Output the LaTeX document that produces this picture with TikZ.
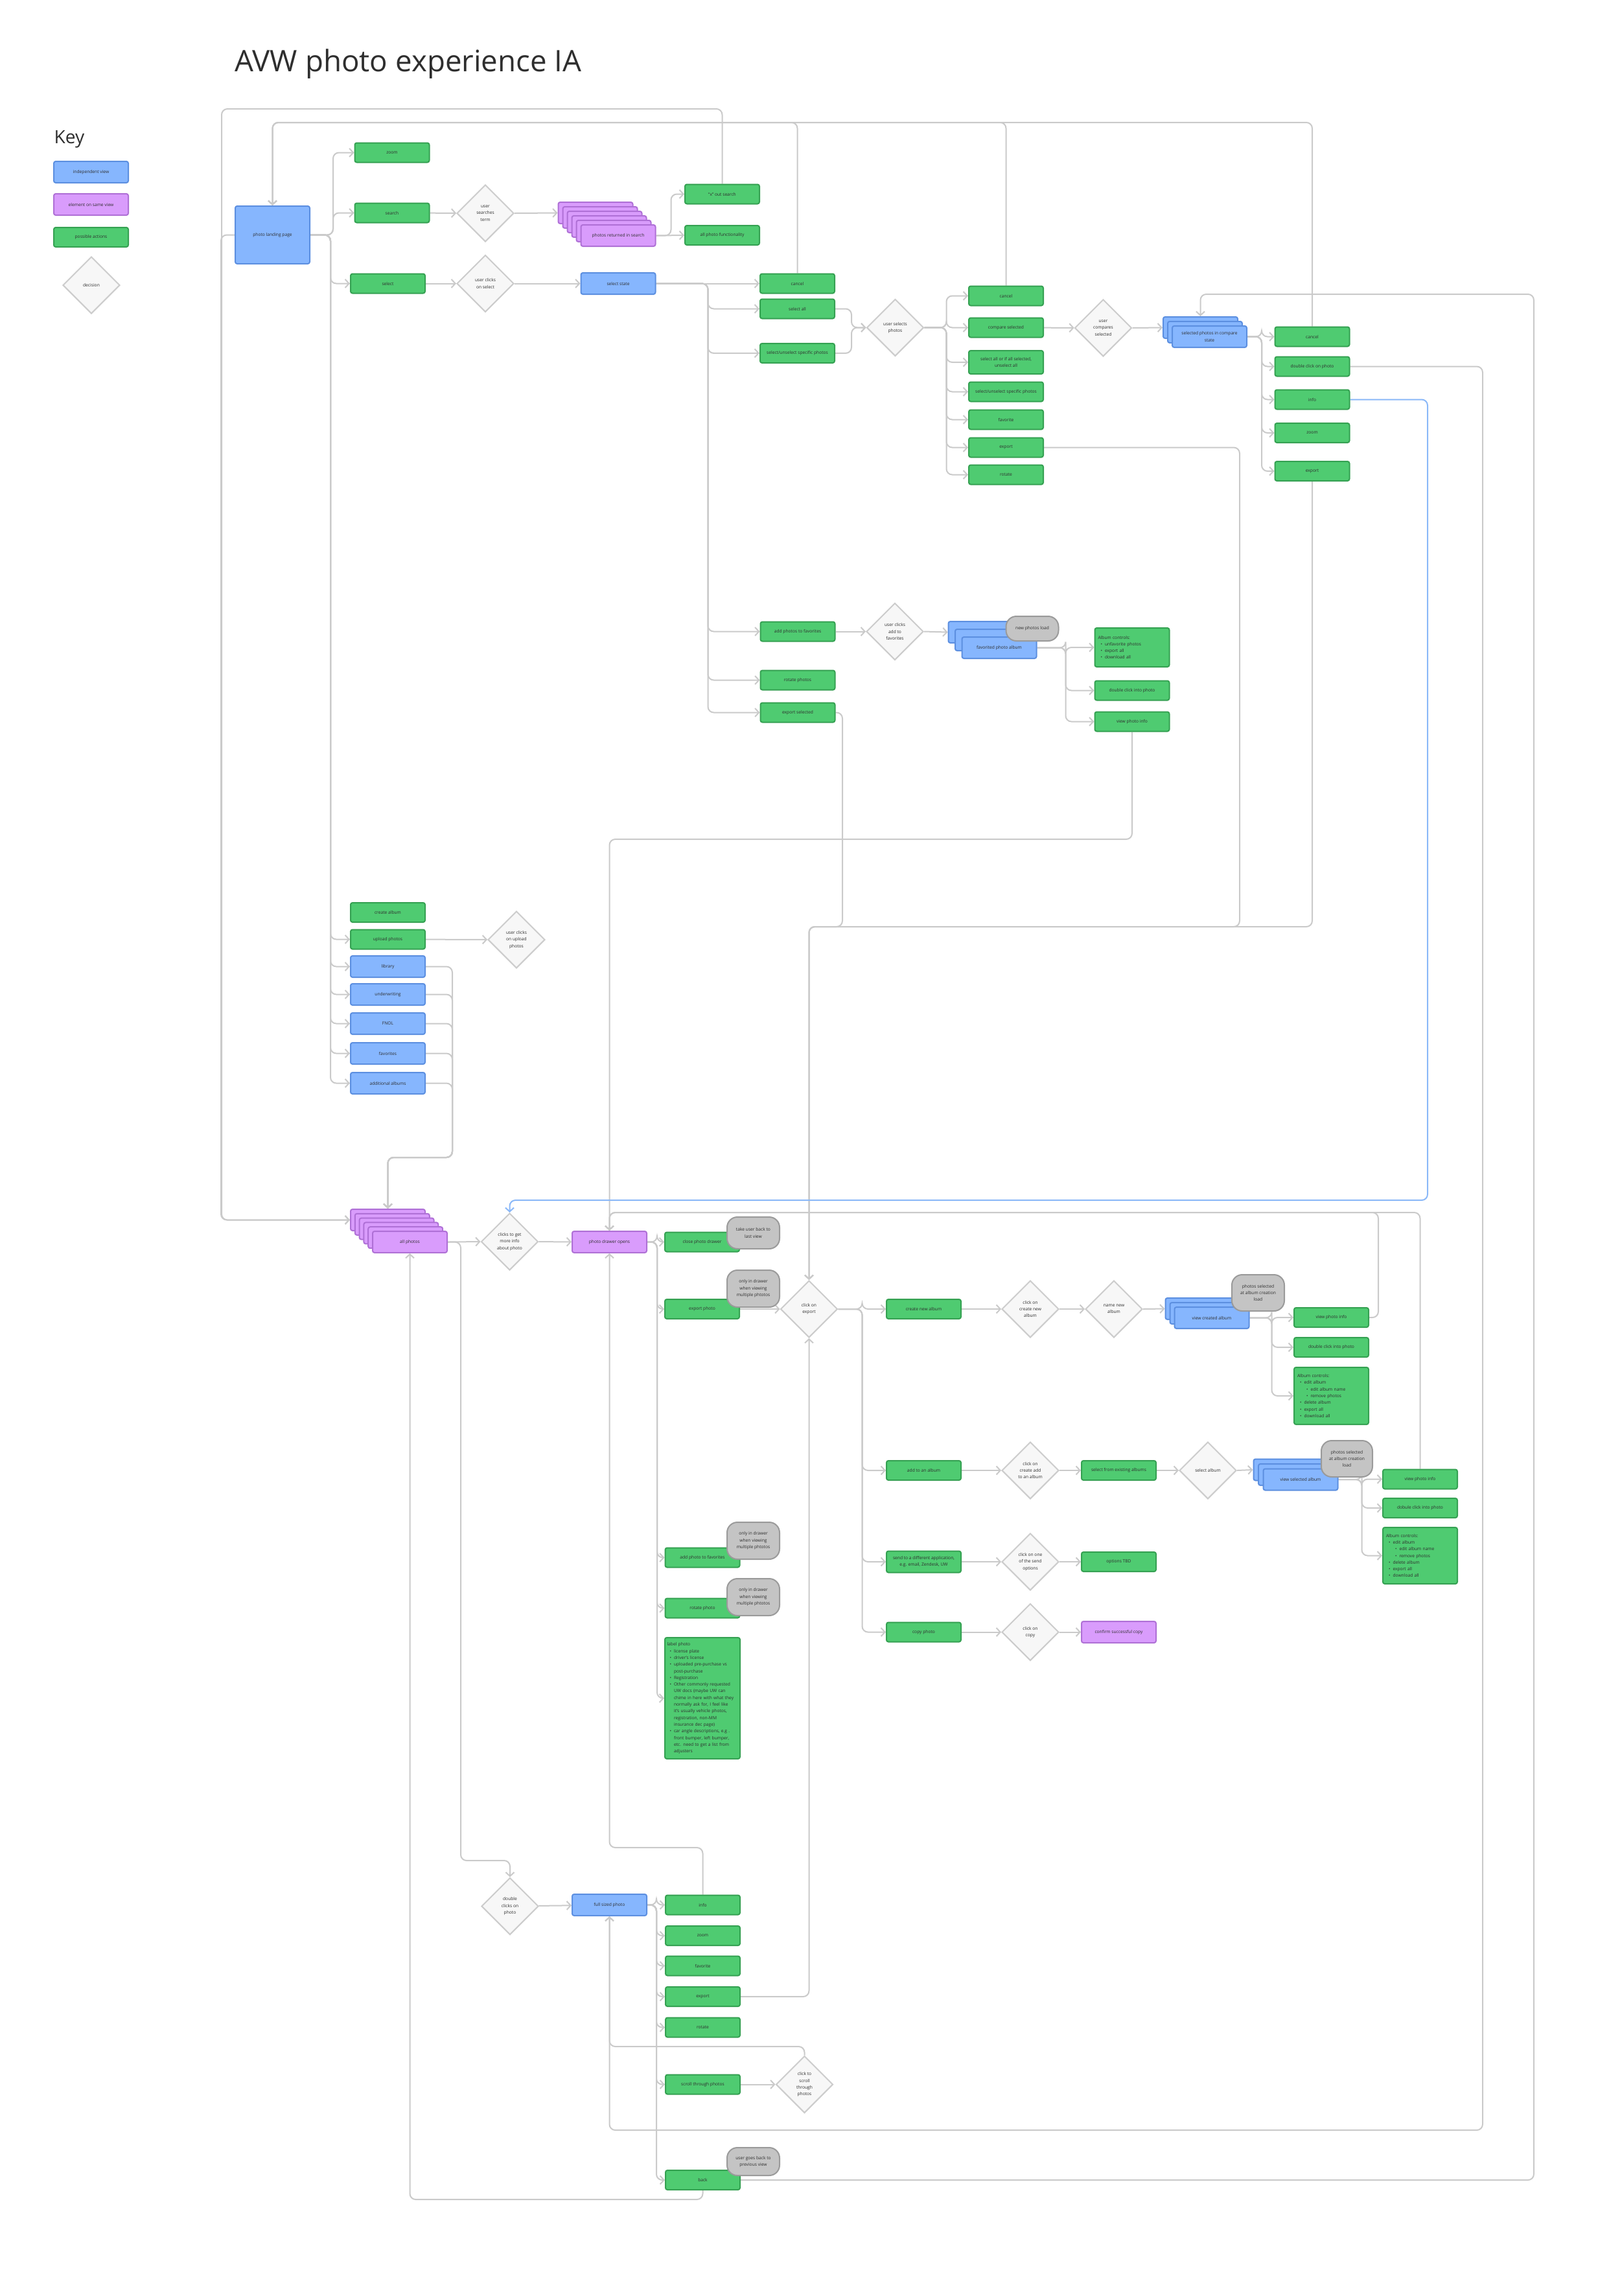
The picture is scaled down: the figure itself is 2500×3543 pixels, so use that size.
\documentclass[tikz,border=0pt]{standalone}
\usepackage{fontspec}
\setmainfont{Open Sans}
\usetikzlibrary{shapes.geometric,arrows.meta}
\pgfdeclarelayer{back}
\pgfdeclarelayer{bg}
\pgfsetlayers{back,bg,main}
\definecolor{gfill}{HTML}{4FCB71}
\definecolor{gborder}{HTML}{35A152}
\definecolor{bfill}{HTML}{86B6FE}
\definecolor{bborder}{HTML}{5C8FE0}
\definecolor{pfill}{HTML}{D99CFC}
\definecolor{pborder}{HTML}{AF70D6}
\definecolor{dfill}{HTML}{F7F7F7}
\definecolor{dborder}{HTML}{CCCCCC}
\definecolor{nfill}{HTML}{C4C4C4}
\definecolor{nborder}{HTML}{9A9A9A}
\definecolor{cline}{HTML}{CACACA}
\definecolor{bline}{HTML}{8AB8F8}
\definecolor{txt}{HTML}{2E2E2E}
\newcommand{\sm}{\fontsize{1.9pt}{2.93pt}\selectfont}
\newcommand{\bi}{\hspace*{0.4mm}\textbullet\hspace*{0.4mm}}
\newcommand{\bii}{\hspace*{1.4mm}\textbullet\hspace*{0.4mm}}
\newcommand{\bc}{\phantom{\bi}}
\tikzset{
 lbl/.style={font=\sm, text=txt},
 gbox/.style={lbl, draw=gborder, fill=gfill, line width=0.2mm, rounded corners=0.3mm, minimum width=11.5mm, minimum height=3mm, inner sep=0pt, align=center},
 bbox/.style={gbox, draw=bborder, fill=bfill, minimum height=3.3mm},
 pbox/.style={gbox, draw=pborder, fill=pfill, minimum height=3.3mm},
 dec/.style={lbl, diamond, draw=dborder, fill=dfill, line width=0.2mm, minimum width=8.8mm, minimum height=8.8mm, inner sep=0pt, align=center},
 note/.style={lbl, draw=nborder, fill=nfill, line width=0.2mm, rounded corners=1.6mm, minimum width=8.1mm, inner sep=0pt, align=center},
 conn/.style={draw=cline, line width=0.2mm, rounded corners=0.9mm, -{Straight Barb[length=0.6mm,width=1.3mm]}},
 bconn/.style={conn, draw=bline},
}
% stack: name, style, x, y, n back layers, dx, dy, text
\newcommand{\stk}[8]{%
  \foreach \k in {#5,...,1}{\node[#2] (#1\k) at ({#3-#6*\k},{#4-#7*\k}) {};}
  \node[#2] (#1) at (#3,#4) {#8};}
\begin{document}
\begin{tikzpicture}[x=0.1mm,y=-0.1mm]
\begin{pgfonlayer}{back}
\fill[white] (0,0) rectangle (2500,3543);
\end{pgfonlayer}
\path[use as bounding box] (0,0) rectangle (2500,3543);

% title and key
\node[anchor=west, text=txt, font=\fontsize{13pt}{15pt}\selectfont, inner sep=0pt] (title) at (362,99) {AVW photo experience IA};
\node[anchor=west, text=txt, font=\fontsize{8pt}{10pt}\selectfont, inner sep=0pt] (keyt) at (83,215) {Key};
\node[bbox] (keyb) at (140.5,265.5) {independent view};
\node[pbox] (keyp) at (140.5,315.5) {element on same view};
\node[gbox] (keyg) at (140.5,366) {possible actions};
\node[dec] (keyd) at (141,440) {decision};

% top section
\node[bbox, minimum height=8.9mm] (landing) at (420.5,362.5) {photo landing page};
\node[gbox] (zoom1) at (605,235.5) {zoom};
\node[gbox] (search) at (605,328.5) {search};
\node[dec] (sdiam) at (749,329) {user\\searches\\term};
\stk{ret}{pbox}{954}{363.5}{5}{7}{7}{photos returned in search}
\node[gbox] (xout) at (1114.5,299.5) {“x” out search};
\node[gbox] (allfunc) at (1114.5,363) {all photo functionality};
\node[gbox] (select) at (598.5,437.5) {select};
\node[dec] (seldiam) at (749,437.5) {user clicks\\on select};
\node[bbox] (selstate) at (954,437.5) {select state};
\node[gbox] (cancel1) at (1230.5,437.5) {cancel};
\node[gbox] (selall) at (1230.5,476.5) {select all};
\node[gbox] (selspec) at (1230.5,545) {select/unselect specific photos};
\node[dec] (usp) at (1381.5,505.5) {user selects\\photos};
\node[gbox] (cancel2) at (1552.5,456.5) {cancel};
\node[gbox] (compare) at (1552.5,505.5) {compare selected};
\node[gbox, minimum height=3.6mm] (selallun) at (1552.5,559) {select all or if all selected,\\unselect all};
\node[gbox] (selspec2) at (1552.5,604.5) {select/unselect specific photos};
\node[gbox] (fav1) at (1552.5,647.5) {favorite};
\node[gbox] (exp1) at (1552.5,690.5) {export};
\node[gbox] (rot1) at (1552.5,732.5) {rotate};
\node[dec] (cdiam) at (1702.5,506) {user\\compares\\selected};
\stk{cmp}{bbox}{1866.5}{519.5}{2}{7}{7}{selected photos in compare\\state}
\node[gbox] (cancel3) at (2025,519.5) {cancel};
\node[gbox] (cdbl) at (2025,565.5) {double click on photo};
\node[gbox] (cinfo) at (2025,616.5) {info};
\node[gbox] (czoom) at (2025,668) {zoom};
\node[gbox] (cexpo) at (2025,727) {export};

% favorites
\node[gbox] (addfav) at (1231,974.5) {add photos to favorites};
\node[gbox] (rotph) at (1231,1049.5) {rotate photos};
\node[gbox] (expsel) at (1231,1099.5) {export selected};
\node[dec] (fdiam) at (1381,974.5) {user clicks\\add to\\favorites};
\stk{favst}{bbox}{1542}{999.5}{2}{10.5}{12}{favorited photo album}
\node[note, minimum height=3.8mm] (newload) at (1593,970) {new photos load};
\node[gbox, minimum height=6mm, text width=10.5mm, align=left] (favctl) at (1747,999) {Album controls:\\\bi unfavorite photos\\\bi export all\\\bi download all};
\node[gbox] (dblfav) at (1747,1065.5) {double click into photo};
\node[gbox] (vinfofav) at (1747,1113.5) {view photo info};

% middle left
\node[gbox] (createalb) at (598.5,1408) {create album};
\node[gbox] (upload) at (598.5,1449.5) {upload photos};
\node[dec] (udiam) at (797,1450) {user clicks\\on upload\\photos};
\node[bbox] (lib) at (598.5,1491.5) {library};
\node[bbox] (uw) at (598.5,1534.5) {underwriting};
\node[bbox] (fnol) at (598.5,1579.5) {FNOL};
\node[bbox] (favs) at (598.5,1625.5) {favorites};
\node[bbox] (addl) at (598.5,1671.5) {additional albums};

% all photos / drawer
\stk{allph}{pbox}{632.5}{1916.5}{5}{6.8}{6.8}{all photos}
\node[dec] (cdi) at (786.5,1916) {clicks to get\\more info\\about photo};
\node[pbox] (drawer) at (940.5,1916.5) {photo drawer opens};
\node[gbox] (close) at (1083.5,1916.5) {close photo drawer};
\node[note, minimum height=4.9mm] (note1) at (1162.5,1902.5) {take user back to\\last view};
\node[gbox] (expph) at (1083.5,2020) {export photo};
\node[note, minimum height=5.7mm] (note2) at (1162.5,1988.5) {only in drawer\\when viewing\\multiple phtotos};
\node[dec] (cexp) at (1248.5,2020) {click on\\export};
\node[gbox] (createnew) at (1425.5,2020) {create new album};
\node[dec] (ccn) at (1590,2020) {click on\\create new\\album};
\node[dec] (namen) at (1719,2020) {name new\\album};
\stk{created}{bbox}{1870}{2033.5}{2}{7}{7}{view created album}
\node[note, minimum height=5.6mm] (note3) at (1941.5,1995) {photos selected\\at album creation\\load};
\node[gbox] (vinfo2) at (2054.5,2033) {view photo info};
\node[gbox] (dbl2) at (2054.5,2079) {double click into photo};
\node[gbox, minimum height=8.8mm, text width=10.5mm, align=left] (ctl2) at (2054.5,2154) {Album controls:\\\bi edit album\\\bii edit album name\\\bii remove photos\\\bi delete album\\\bi export all\\\bi download all};
\node[gbox] (addalb) at (1425.5,2269) {add to an album};
\node[dec] (cadd) at (1590,2269) {click on\\create add\\to an album};
\node[gbox] (selex) at (1726.5,2269) {select from existing albums};
\node[dec] (selalb) at (1864,2269) {select album};
\stk{selst}{bbox}{2007}{2283}{2}{7.5}{7.5}{view selected album}
\node[note, minimum width=7.9mm, minimum height=5.6mm] (note4) at (2078.5,2251) {photos selected\\at album creation\\load};
\node[gbox] (vinfo3) at (2191.5,2282.5) {view photo info};
\node[gbox] (dbl3) at (2191.5,2327) {dobule click into photo};
\node[gbox, minimum height=8.7mm, text width=10.5mm, align=left] (ctl3) at (2191.5,2400.5) {Album controls:\\\bi edit album\\\bii edit album name\\\bii remove photos\\\bi delete album\\\bi export all\\\bi download all};
\node[gbox, minimum height=3.3mm] (send) at (1425.5,2410) {send to a different application,\\e.g. email, Zendesk, UW};
\node[dec] (sdiam2) at (1590,2410) {click on one\\of the send\\options};
\node[gbox] (opts) at (1726.5,2410) {options TBD};
\node[gbox] (copy) at (1425.5,2518.5) {copy photo};
\node[dec] (cdiam2) at (1590,2518.5) {click on\\copy};
\node[pbox] (confirm) at (1726.5,2518.5) {confirm successful copy};

\node[gbox] (addfav2) at (1084,2403.5) {add photo to favorites};
\node[note, minimum height=5.7mm] (note5) at (1162.5,2377.5) {only in drawer\\when viewing\\multiple phtotos};
\node[gbox] (rotph2) at (1084,2481.5) {rotate photo};
\node[note, minimum height=5.7mm] (note6) at (1162.5,2464.5) {only in drawer\\when viewing\\multiple phtotos};
\node[gbox, minimum width=11.6mm, minimum height=18.7mm, text width=10.9mm, align=left] (label) at (1084,2620.5) {label photo\\
\bi license plate\\
\bi driver's license\\
\bi uploaded pre-purchase vs\\
\bc post-purchase\\
\bi Registration\\
\bi Other commonly requested\\
\bc UW docs (maybe UW can\\
\bc chime in here with what they\\
\bc normally ask for, I feel like\\
\bc it's usually vehicle photos,\\
\bc registration, non-MM\\
\bc insurance dec page)\\
\bi car angle descriptions, e.g .\\
\bc front bumper, left bumper,\\
\bc etc. need to get a list from\\
\bc adjusters};

% full sized photo
\node[dec] (dbldiam) at (787,2941.5) {double\\clicks on\\photo};
\node[bbox] (full) at (940.5,2939.5) {full sized photo};
\node[gbox] (finfo) at (1084.5,2939.5) {info};
\node[gbox] (fzoom) at (1084.5,2987) {zoom};
\node[gbox] (ffav) at (1084.5,3033.5) {favorite};
\node[gbox] (fexp) at (1084.5,3081) {export};
\node[gbox] (frot) at (1084.5,3128.5) {rotate};
\node[gbox] (scroll) at (1084.5,3216.5) {scroll through photos};
\node[dec] (scdiam) at (1241.5,3216.5) {click to\\scroll\\through\\photos};
\node[gbox] (back) at (1084.5,3364) {back};
\node[note, minimum height=4.3mm] (note7) at (1162.5,3335.5) {user goes back to\\previous view};

% ---------------- connectors
\begin{pgfonlayer}{bg}
\foreach \t in {zoom1,search} \draw[conn] (landing.east) -- ++(35,0) |- (\t.west);
\foreach \t in {select,upload,lib,uw,fnol,favs,addl} \draw[conn] (landing.east) -- ++(31,0) |- (\t.west);
\draw[conn] (landing.west) -- ++(-21,0) |- (allph5.west);
\draw[conn] (xout.north) |- (342,168) |- (allph5.west);
\foreach \t in {cancel1,cancel2,cancel3} \draw[conn] (\t.north) |- (landing.north |- 0,189) -- (landing.north);
\draw[conn] (search) -- (sdiam);
\draw[conn] (sdiam.east) -- (ret5.west);
\draw[conn] (ret.east) -- ++(23,0) |- (xout.west);
\draw[conn] (ret.east) -- (allfunc.west);
\draw[conn] (select) -- (seldiam);
\draw[conn] (seldiam) -- (selstate);
\draw[conn] (selstate) -- (cancel1);
\foreach \t in {selall,selspec,addfav,rotph,expsel} \draw[conn] (selstate.east) -- ++(80,0) |- (\t.west);
\foreach \t in {selall,selspec} \draw[conn] (\t.east) -- ++(25,0) |- (usp.west);
\foreach \t in {cancel2,compare,selallun,selspec2,fav1,exp1,rot1} \draw[conn] (usp.east) -- ++(34,0) |- (\t.west);
\draw[conn] (compare) -- (cdiam);
\draw[conn] (cdiam.east) -- (cmp2.west);
\foreach \t in {cancel3,cdbl,cinfo,czoom,cexpo} \draw[conn] (cmp.east) -- ++(22,0) |- (\t.west);
\draw[conn] (exp1.east) -| (1913,1430) -| (cexp.north);
\draw[conn] (cexpo.south) -- (2025,1430) -| (cexp.north);
\draw[conn] (expsel.east) -| (1300,1430) -| (cexp.north);
\draw[conn] (addfav) -- (fdiam);
\draw[conn] (fdiam.east) -- (favst2.west);
\foreach \t in {favctl,dblfav,vinfofav} \draw[conn] (favst.east) -- ++(44,0) |- (\t.west);
\draw[conn] (vinfofav.south) |- (drawer.north |- 0,1295) -- (drawer.north);
\draw[conn] (upload) -- (udiam);
\foreach \t in {lib,uw,fnol,favs,addl} \draw[conn] (\t.east) -| (698,1786) -| (allph5.north);
\draw[conn] (allph.east) -- (cdi.west);
\draw[conn] (allph.east) -- ++(20,0) |- (dbldiam.north |- 0,2871) -- (dbldiam.north);
\draw[conn] (cdi) -- (drawer);
\foreach \t in {close,expph,addfav2,rotph2,label} \draw[conn] (drawer.east) -- ++(15,0) |- (\t.west);
\draw[conn] (expph) -- (cexp);
\foreach \t in {createnew,addalb,send,copy} \draw[conn] (cexp.east) -- ++(37,0) |- (\t.west);
\draw[conn] (createnew) -- (ccn);
\draw[conn] (ccn) -- (namen);
\draw[conn] (namen.east) -- (created2.west);
\foreach \t in {vinfo2,dbl2,ctl2} \draw[conn] (created.east) -- ++(34,0) |- (\t.west);
\draw[conn] (vinfo2.east) -- ++(14,0) |- (drawer.north |- 0,1871) -- (drawer.north);
\draw[conn] (addalb) -- (cadd);
\draw[conn] (cadd) -- (selex);
\draw[conn] (selex) -- (selalb);
\draw[conn] (selalb.east) -- (selst2.west);
\foreach \t in {vinfo3,dbl3,ctl3} \draw[conn] (selst.east) -- ++(36,0) |- (\t.west);
\draw[conn] (vinfo3.north) |- (drawer.north |- 0,1871) -- (drawer.north);
\draw[conn] (send) -- (sdiam2);
\draw[conn] (sdiam2) -- (opts);
\draw[conn] (copy) -- (cdiam2);
\draw[conn] (cdiam2) -- (confirm);
\draw[bconn] (cinfo.east) -| (2203,1852) -| (cdi.north);
\draw[conn] (cdbl.east) -| (2288,3287) -| (full.south);
\draw[conn] (back.east) -| (2367,454) -| (cmp2.north);
\draw[conn] (back.south) |- (allph.south |- 0,3394) -- (allph.south);
\draw[conn] (dbldiam) -- (full);
\foreach \t in {finfo,fzoom,ffav,fexp,frot,scroll,back} \draw[conn] (full.east) -- ++(14,0) |- (\t.west);
\draw[conn] (finfo.north) |- (drawer.south |- 0,2851) -- (drawer.south);
\draw[conn] (fexp.east) -| (cexp.south);
\draw[conn] (scroll) -- (scdiam);
\draw[conn] (scdiam.north) |- (full.south |- 0,3158) -- (full.south);
\end{pgfonlayer}
\end{tikzpicture}
\end{document}
